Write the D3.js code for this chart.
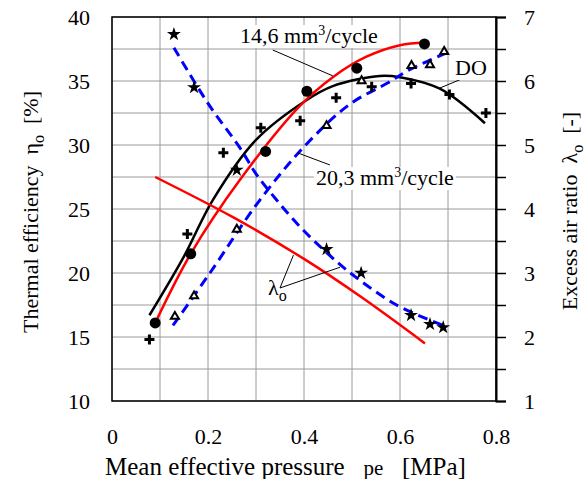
<!DOCTYPE html>
<html>
<head>
<meta charset="utf-8">
<script src="https://cdn.jsdelivr.net/npm/d3@7"></script>
<style>
  body { margin: 0; background: #fff; }
  svg text { font-family: "Liberation Serif", "Times New Roman", serif; fill: #000; }
</style>
</head>
<body>
<script>
// data
const x_ticks = [0, 0.2, 0.4, 0.6, 0.8];
const eta_ticks = [10, 15, 20, 25, 30, 35, 40];
const lambda_ticks = [1, 2, 3, 4, 5, 6, 7];

// measured points
const pts_14_6 = [[0.090,16.1],[0.164,21.5],[0.320,29.5],[0.406,34.2],[0.510,36.0],[0.651,37.9]];
const pts_20_3 = [[0.131,16.6],[0.171,18.2],[0.260,23.4],[0.447,31.5],[0.520,35.0],[0.624,36.2],[0.6625,36.25],[0.692,37.3]];
const pts_do = [[0.078,14.8],[0.157,23.05],[0.232,29.4],[0.310,31.35],[0.392,31.9],[0.467,33.7],[0.541,34.55],[0.623,34.8],[0.703,33.95],[0.779,32.5]];
const pts_lambda_20_3 = [[0.129,6.73],[0.171,5.90],[0.260,4.61],[0.447,3.37],[0.519,3.0],[0.623,2.34],[0.6625,2.20],[0.690,2.15]];

// fitted curves
const fit_eta_14_6 = [[0.09,16.1],[0.164,21.5],[0.267,27.3],[0.39,33.0],[0.46,35.3],[0.53,36.9],[0.60,37.8],[0.652,38.0]];
const fit_eta_20_3 = [[0.127,15.9],[0.204,20.0],[0.308,25.7],[0.406,30.1],[0.496,33.2],[0.572,34.8],[0.621,35.9],[0.697,37.2]];
const fit_eta_do = [[0.078,16.7],[0.15,21.3],[0.21,25.7],[0.30,30.4],[0.405,33.5],[0.46,34.6],[0.558,35.4],[0.60,35.3],[0.683,34.4],[0.777,31.7]];
const fit_lambda_14_6 = [[0.09,4.50],[0.25,3.88],[0.40,3.22],[0.52,2.62],[0.652,1.90]];
const fit_lambda_20_3 = [[0.129,6.52],[0.2,5.65],[0.267,4.95],[0.30,4.55],[0.343,4.14],[0.392,3.72],[0.45,3.30],[0.5,2.98],[0.593,2.50],[0.69,2.18]];

const W = 588, H = 479;
const margin = {top: 17, right: 92, bottom: 78, left: 112};
const width = W - margin.left - margin.right,
      height = H - margin.top - margin.bottom;

const x = d3.scaleLinear().domain([0, 0.8]).range([0, width]);
const y = d3.scaleLinear().domain([10, 40]).range([height, 0]);
const yr = d3.scaleLinear().domain([1, 7]).range([height, 0]);

const serif = "Liberation Serif, Times New Roman, serif";
const fs = "22px";
const sp = "\u00A0\u00A0";

const svg = d3.select("body").append("svg")
    .attr("width", W)
    .attr("height", H)
  .append("g")
    .attr("transform", "translate(" + margin.left + "," + margin.top + ")");

// grid
svg.append("g").selectAll("line")
    .data(d3.range(0, 9).map(d => d / 10))
  .enter().append("line")
    .attr("x1", d => x(d)).attr("x2", d => x(d))
    .attr("y1", 0).attr("y2", height)
    .style("stroke", "#9a9a9a").style("stroke-width", 1);
svg.append("g").selectAll("line")
    .data(d3.range(0, 13).map(d => 10 + d * 2.5))
  .enter().append("line")
    .attr("x1", 0).attr("x2", width)
    .attr("y1", d => y(d)).attr("y2", d => y(d))
    .style("stroke", "#9a9a9a").style("stroke-width", 1);

svg.append("rect")
    .attr("width", width).attr("height", height)
    .style("fill", "none").style("stroke", "#000").style("stroke-width", 1.5);

// axes
const xAxis = svg.append("g")
    .attr("transform", "translate(0," + height + ")")
    .call(d3.axisBottom(x).tickValues(x_ticks).tickSize(0).tickPadding(27)
      .tickFormat(d => d === 0 ? "0" : d.toFixed(1)))
    .attr("font-family", serif).attr("font-size", fs);
xAxis.select(".domain").remove();

const yAxis = svg.append("g")
    .call(d3.axisLeft(y).tickValues(eta_ticks).tickSize(0).tickPadding(22))
    .attr("font-family", serif).attr("font-size", fs);
yAxis.select(".domain").remove();

const yrAxis = svg.append("g")
    .attr("transform", "translate(" + width + ",0)")
    .call(d3.axisRight(yr).tickValues(d3.range(1, 7.01, 0.5)).tickSize(10).tickPadding(18)
      .tickFormat(d => lambda_ticks.includes(d) ? d : ""))
    .attr("font-family", serif).attr("font-size", fs);
yrAxis.select(".domain").style("stroke-width", 2);
yrAxis.selectAll("line").style("stroke-width", 1.5);

// curves
const line_l = d3.line().x(d => x(d[0])).y(d => y(d[1])).curve(d3.curveCatmullRom);
const line_r = d3.line().x(d => x(d[0])).y(d => yr(d[1])).curve(d3.curveCatmullRom);

svg.append("path").datum(fit_eta_do).attr("d", line_l)
    .style("fill", "none").style("stroke", "#000").style("stroke-width", 2.5);
svg.append("path").datum(fit_eta_14_6).attr("d", line_l)
    .style("fill", "none").style("stroke", "#ff0000").style("stroke-width", 2.5);
svg.append("path").datum(fit_lambda_14_6).attr("d", line_r)
    .style("fill", "none").style("stroke", "#ff0000").style("stroke-width", 2.5);
svg.append("path").datum(fit_eta_20_3).attr("d", line_l)
    .style("fill", "none").style("stroke", "#0000ff").style("stroke-width", 3)
    .style("stroke-dasharray", "10,6");
svg.append("path").datum(fit_lambda_20_3).attr("d", line_r)
    .style("fill", "none").style("stroke", "#0000ff").style("stroke-width", 3)
    .style("stroke-dasharray", "10,6");

// markers
svg.append("g").selectAll("circle")
    .data(pts_14_6)
  .enter().append("circle")
    .attr("cx", d => x(d[0])).attr("cy", d => y(d[1])).attr("r", 5.5)
    .style("fill", "#000");

svg.append("g").selectAll("path")
    .data(pts_do)
  .enter().append("path")
    .attr("transform", d => "translate(" + x(d[0]) + "," + y(d[1]) + ")")
    .attr("d", "M-5,0H5M0,-5V5")
    .style("stroke", "#000").style("stroke-width", 3);

svg.append("g").selectAll("path")
    .data(pts_20_3)
  .enter().append("path")
    .attr("transform", d => "translate(" + x(d[0]) + "," + y(d[1]) + ")")
    .attr("d", d3.symbol().type(d3.symbolTriangle).size(28))
    .style("fill", "#fff").style("stroke", "#000").style("stroke-width", 2);

svg.append("g").selectAll("path")
    .data(pts_lambda_20_3)
  .enter().append("path")
    .attr("transform", d => "translate(" + x(d[0]) + "," + yr(d[1]) + ")")
    .attr("d", d3.symbol().type(d3.symbolStar).size(60))
    .style("fill", "#000");

// annotations
function leader(a, b, ys) {
  svg.append("line")
    .attr("x1", x(a[0])).attr("y1", ys(a[1]))
    .attr("x2", x(b[0])).attr("y2", ys(b[1]))
    .style("stroke", "#000").style("stroke-width", 1);
}
function label(px, py, parts, ys) {
  const t = svg.append("text")
    .attr("x", x(px)).attr("y", ys(py))
    .style("font-size", fs);
  parts.forEach(p => {
    const s = t.append("tspan").text(p[0]);
    if (p[1] === "sup") s.attr("dy", -8).style("font-size", "14px");
    if (p[1] === "back") s.attr("dy", 8);
  });
  const bb = t.node().getBBox();
  svg.insert("rect", () => t.node())
    .attr("x", bb.x - 2).attr("y", bb.y + 2).attr("width", bb.width + 4).attr("height", bb.height - 2)
    .style("fill", "#fff");
}

leader([0.335, 37.42], [0.46, 35.4], y);
label(0.2667, 37.97, [["14,6 mm"], ["3", "sup"], ["/cycle", "back"]], y);

leader([0.3875, 29.375], [0.454, 28.44], y);
label(0.425, 26.875, [["20,3 mm"], ["3", "sup"], ["/cycle", "back"]], y);

leader([0.7375, 35.3], [0.683, 34.45], y);
label(0.7146, 35.47, [["DO"]], y);

leader([0.35, 2.766], [0.378, 3.28], yr);
leader([0.35, 2.766], [0.475, 3.09], yr);
svg.append("text")
    .attr("x", x(0.325)).attr("y", yr(2.656))
    .style("font-size", fs)
    .call(t => {
      t.append("tspan").text("λ");
      t.append("tspan").text("o").attr("dy", 6).style("font-size", "16px");
    });

// axis titles
svg.append("text")
    .attr("transform", "translate(" + (38 - margin.left) + "," + (212 - margin.top) + ") rotate(-90)")
    .style("text-anchor", "middle").style("font-size", fs)
    .call(t => {
      t.append("tspan").text("Thermal efficiency" + sp + "η");
      t.append("tspan").text("o").attr("dy", 6).style("font-size", "16px");
      t.append("tspan").text(sp + "[%]").attr("dy", -6);
    });

svg.append("text")
    .attr("transform", "translate(" + (577 - margin.left) + "," + (211 - margin.top) + ") rotate(-90)")
    .style("text-anchor", "middle").style("font-size", fs)
    .call(t => {
      t.append("tspan").text("Excess air ratio" + sp + "λ");
      t.append("tspan").text("o").attr("dy", 6).style("font-size", "16px");
      t.append("tspan").text(sp + "[-]").attr("dy", -6);
    });

svg.append("text")
    .attr("x", 105 - margin.left).attr("y", 475 - margin.top)
    .style("font-size", "25px")
    .call(t => {
      t.append("tspan").text("Mean effective pressure" + sp + "\u00A0");
      t.append("tspan").text("pe").style("font-size", "21px");
      t.append("tspan").text(sp + "\u00A0[MPa]");
    });
</script>
</body>
</html>
